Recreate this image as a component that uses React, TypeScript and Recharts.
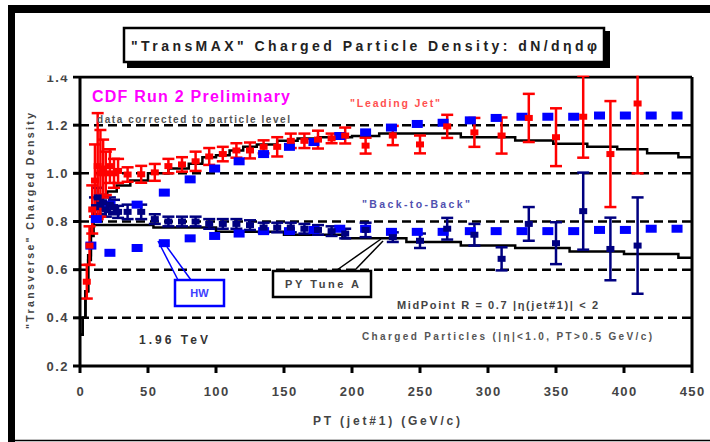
import React from 'react';
import { ComposedChart, XAxis, YAxis, Scatter, Line, ErrorBar, ReferenceLine } from 'recharts';

const W = 710;
const H = 442;
const MARGIN = { top: 77, right: 18, bottom: 26, left: 20 };
const Y_AXIS_W = 60;
const X_AXIS_H = 50;
const PLOT_LEFT = MARGIN.left + Y_AXIS_W;
const PLOT_TOP = MARGIN.top;
const PLOT_BOTTOM = H - MARGIN.bottom - X_AXIS_H;

const FONT = '"Liberation Sans", Arial, sans-serif';

// Axis ticks and dashed reference levels
const X_TICKS = [0, 50, 100, 150, 200, 250, 300, 350, 400, 450];
const Y_TICKS = [0.2, 0.4, 0.6, 0.8, 1.0, 1.2, 1.4];
const GRID_LEVELS = [0.4, 0.6, 0.8, 1.0, 1.2];
const X_DOMAIN: [number, number] = [0, 450];
const Y_DOMAIN: [number, number] = [0.2, 1.4];

// CDF data: "Leading Jet" region
const LEAD_PT = [5, 7, 9, 11, 13, 15, 17, 19, 22, 25, 28, 35, 45, 55, 65, 75, 85, 95, 105, 115, 125, 135, 145, 155, 165, 175, 185, 195, 210, 230, 250, 270, 290, 310, 330, 350, 370, 390, 410];
const LEAD_VAL = [0.55, 0.7, 0.85, 0.97, 1.03, 1.0, 1.02, 1.0, 1.03, 1.0, 1.01, 0.995, 0.996, 1.004, 1.03, 1.037, 1.05, 1.07, 1.08, 1.095, 1.095, 1.11, 1.11, 1.135, 1.135, 1.14, 1.145, 1.157, 1.115, 1.157, 1.12, 1.195, 1.17, 1.157, 1.23, 1.15, 1.235, 1.08, 1.29];
const LEAD_ERR = [0.07, 0.08, 0.1, 0.15, 0.22, 0.18, 0.12, 0.09, 0.07, 0.06, 0.05, 0.03, 0.035, 0.035, 0.03, 0.03, 0.04, 0.035, 0.03, 0.03, 0.033, 0.027, 0.04, 0.03, 0.03, 0.037, 0.02, 0.033, 0.033, 0.04, 0.037, 0.048, 0.06, 0.075, 0.1, 0.12, 0.17, 0.22, 0.29];

// CDF data: "Back-to-Back" region
const B2B_PT = [11, 13, 15, 17, 19, 22, 25, 28, 35, 45, 55, 65, 75, 85, 95, 105, 115, 125, 135, 145, 155, 165, 175, 185, 195, 210, 230, 250, 270, 290, 310, 330, 350, 370, 390, 410];
const B2B_VAL = [0.86, 0.9, 0.87, 0.88, 0.85, 0.87, 0.86, 0.84, 0.84, 0.84, 0.81, 0.8, 0.8, 0.8, 0.79, 0.79, 0.79, 0.785, 0.775, 0.775, 0.775, 0.77, 0.765, 0.76, 0.75, 0.765, 0.735, 0.72, 0.77, 0.745, 0.645, 0.79, 0.71, 0.843, 0.686, 0.7];
const B2B_ERR = [0.04, 0.04, 0.04, 0.03, 0.03, 0.03, 0.03, 0.025, 0.03, 0.03, 0.02, 0.02, 0.02, 0.02, 0.02, 0.02, 0.02, 0.02, 0.02, 0.02, 0.02, 0.02, 0.02, 0.02, 0.02, 0.03, 0.02, 0.03, 0.045, 0.045, 0.048, 0.07, 0.087, 0.16, 0.13, 0.2];

// HERWIG prediction
const HW_LEAD_PT = [12, 22, 42, 62, 81, 99, 117, 135, 154, 172, 191, 210, 229, 248, 267, 287, 306, 325, 344, 363, 382, 401, 420, 439];
const HW_LEAD_VAL = [0.81, 0.87, 0.87, 0.92, 0.975, 1.02, 1.05, 1.08, 1.11, 1.13, 1.155, 1.17, 1.19, 1.205, 1.21, 1.22, 1.23, 1.235, 1.235, 1.235, 1.24, 1.24, 1.24, 1.24];
const HW_B2B_PT = [8, 22, 42, 62, 81, 99, 117, 135, 154, 172, 191, 210, 229, 248, 267, 287, 306, 325, 344, 363, 382, 401, 420, 439];
const HW_B2B_VAL = [0.7, 0.67, 0.69, 0.71, 0.73, 0.74, 0.75, 0.76, 0.76, 0.765, 0.77, 0.77, 0.757, 0.757, 0.757, 0.76, 0.76, 0.76, 0.76, 0.76, 0.765, 0.765, 0.77, 0.77];

// PYTHIA Tune A prediction (histogram bins: lower edge, content)
const PY_LEAD_EDGE = [0, 2, 4, 6, 8, 10, 12, 15, 20, 27, 37, 50, 65, 80, 90, 100, 110, 120, 130, 145, 160, 175, 200, 220, 280, 320, 348, 373, 395, 417, 440, 450];
const PY_LEAD_VAL = [0.33, 0.4, 0.51, 0.66, 0.78, 0.85, 0.89, 0.91, 0.925, 0.95, 0.97, 1.0, 1.02, 1.04, 1.067, 1.075, 1.095, 1.11, 1.12, 1.135, 1.145, 1.15, 1.155, 1.165, 1.15, 1.136, 1.123, 1.11, 1.1, 1.083, 1.067, 1.067];
const PY_B2B_EDGE = [0, 2, 4, 6, 8, 10, 54, 100, 150, 193, 240, 280, 320, 360, 400, 440, 450];
const PY_B2B_VAL = [0.33, 0.4, 0.51, 0.64, 0.74, 0.785, 0.775, 0.757, 0.745, 0.73, 0.715, 0.7, 0.69, 0.675, 0.665, 0.65, 0.65];

const zip = (xs: number[], vs: number[], es?: number[]) =>
  xs.map((pt, i) => ({ pt, v: vs[i], err: es ? es[i] : 0 }));

const leadData = zip(LEAD_PT, LEAD_VAL, LEAD_ERR);
const b2bData = zip(B2B_PT, B2B_VAL, B2B_ERR);
const hwLeadData = zip(HW_LEAD_PT, HW_LEAD_VAL);
const hwB2bData = zip(HW_B2B_PT, HW_B2B_VAL);
const pyLeadData = zip(PY_LEAD_EDGE, PY_LEAD_VAL);
const pyB2bData = zip(PY_B2B_EDGE, PY_B2B_VAL);

const RED = '#ff0000';
const NAVY = '#000080';
const BLUE = '#0000ff';

const box = (w: number, h: number, fill: string) => (p: any) =>
  <rect x={p.cx - w / 2} y={p.cy - h / 2} width={w} height={h} fill={fill} />;

const YTickLabel = (p: any) => (
  <text x={PLOT_LEFT - 11} y={p.y + 4.5} textAnchor="end" fontFamily={FONT} fontSize={13} letterSpacing={1.5} fontWeight={700} fill="#444">
    {Number(p.payload.value).toFixed(1)}
  </text>
);

const XTickLabel = (p: any) => (
  <text x={p.x + 0.75} y={PLOT_BOTTOM + 30} textAnchor="middle" fontFamily={FONT} fontSize={13} letterSpacing={1.5} fontWeight={700} fill="#444">
    {p.payload.value}
  </text>
);

const tickStroke = { stroke: '#000', strokeWidth: 3 };
const txt = { fontFamily: FONT, fontWeight: 700 } as const;

export default function App() {
  return (
    <div style={{ position: 'absolute', left: 0, top: 0, width: W, height: H, background: '#fff' }}>
      <ComposedChart width={W} height={H} margin={MARGIN}>
        <XAxis
          dataKey="pt"
          type="number"
          domain={X_DOMAIN}
          ticks={X_TICKS}
          allowDataOverflow
          height={X_AXIS_H}
          tickSize={7}
          axisLine={tickStroke}
          tickLine={tickStroke}
          tick={<XTickLabel />}
          interval={0}
        />
        {/* inward half of the crossing tick marks */}
        <XAxis
          xAxisId="inner"
          dataKey="pt"
          type="number"
          domain={X_DOMAIN}
          ticks={X_TICKS}
          allowDataOverflow
          mirror
          tickSize={8}
          axisLine={false}
          tickLine={tickStroke}
          tick={false}
          interval={0}
        />
        <YAxis
          type="number"
          domain={Y_DOMAIN}
          ticks={Y_TICKS}
          allowDataOverflow
          width={Y_AXIS_W}
          tickSize={7}
          axisLine={tickStroke}
          tickLine={tickStroke}
          tick={<YTickLabel />}
          interval={0}
        />
        <YAxis
          yAxisId="inner"
          type="number"
          domain={Y_DOMAIN}
          ticks={Y_TICKS}
          allowDataOverflow
          mirror
          tickSize={7}
          axisLine={false}
          tickLine={tickStroke}
          tick={false}
          interval={0}
        />
        {GRID_LEVELS.map((g) => (
          <ReferenceLine key={g} y={g} stroke="#000" strokeWidth={2.5} strokeDasharray="9 5" />
        ))}
        <ReferenceLine y={1.4} stroke="#000" strokeWidth={3} />
        <ReferenceLine x={450} stroke="#000" strokeWidth={3} />

        <Line data={pyLeadData} dataKey="v" type="stepAfter" stroke="#000" strokeWidth={2.5} dot={false} isAnimationActive={false} />
        <Line data={pyB2bData} dataKey="v" type="stepAfter" stroke="#000" strokeWidth={2.5} dot={false} isAnimationActive={false} />

        <Scatter data={hwLeadData} dataKey="v" shape={box(11, 8, BLUE)} isAnimationActive={false} />
        <Scatter data={hwB2bData} dataKey="v" shape={box(11, 8, BLUE)} isAnimationActive={false} />

        <Scatter data={b2bData} dataKey="v" shape={box(8, 6, NAVY)} isAnimationActive={false}>
          <ErrorBar dataKey="err" direction="y" width={6} stroke={NAVY} strokeWidth={2.5} isAnimationActive={false} />
        </Scatter>
        <Scatter data={leadData} dataKey="v" shape={box(8, 6, RED)} isAnimationActive={false}>
          <ErrorBar dataKey="err" direction="y" width={6} stroke={RED} strokeWidth={2.5} isAnimationActive={false} />
        </Scatter>
      </ComposedChart>

      <svg width={W} height={H} style={{ position: 'absolute', left: 0, top: 0, pointerEvents: 'none' }}>
        {/* keep error bars inside the plot frame */}
        <rect x={15} y={13} width={W - 15} height={PLOT_TOP - 14.5} fill="#fff" />

        {/* outer frame */}
        <rect x={8} y={5} width={W - 8} height={8} fill="#000" />
        <rect x={8} y={5} width={7} height={H - 5} fill="#000" />
        <line x1={8} x2={W} y1={440.5} y2={440.5} stroke="#000" strokeWidth={1.5} />

        {/* title box with drop shadow */}
        <rect x={127} y={31} width={483} height={37} fill="#000" />
        <rect x={124} y={28} width={480} height={34} fill="#fff" stroke="#000" strokeWidth={2.5} />
        <text x={131} y={51} textLength={466} lengthAdjust="spacing" fontSize={14} fill="#222" {...txt}>
          "TransMAX" Charged Particle Density: dN/dηdφ
        </text>

        {/* axis titles */}
        <text transform="translate(34,221) rotate(-90)" textAnchor="middle" textLength={216} lengthAdjust="spacing" fontSize={10.5} fill="#444" {...txt}>
          "Transverse" Charged Density
        </text>
        <text x={313} y={425} textLength={147} lengthAdjust="spacing" fontSize={12} fill="#444" {...txt}>
          PT (jet#1)  (GeV/c)
        </text>

        {/* annotations */}
        <text x={92} y={102} textLength={198} lengthAdjust="spacing" fontSize={16} fill="#ff00ff" {...txt}>
          CDF Run 2 Preliminary
        </text>
        <text x={97} y={123} textLength={193} lengthAdjust="spacing" fontSize={10} fill="#555" {...txt}>
          data corrected to particle level
        </text>
        <text x={350} y={107} textLength={90} lengthAdjust="spacing" fontSize={10.5} fill="#ff5050" {...txt}>
          "Leading Jet"
        </text>
        <text x={362} y={208} textLength={108} lengthAdjust="spacing" fontSize={10.5} fill="#5050b0" {...txt}>
          "Back-to-Back"
        </text>
        <text x={139} y={344} textLength={69} lengthAdjust="spacing" fontSize={12} fill="#333" {...txt}>
          1.96 TeV
        </text>
        <text x={397} y={309} textLength={201} lengthAdjust="spacing" fontSize={11} fill="#444" {...txt}>
          MidPoint R = 0.7 |η(jet#1)| &lt; 2
        </text>
        <text x={362} y={340} textLength={290} lengthAdjust="spacing" fontSize={10} fill="#555" {...txt}>
          Charged Particles (|η|&lt;1.0, PT&gt;0.5 GeV/c)
        </text>

        {/* HW label and leader */}
        <line x1={158} y1={241} x2={178} y2={280} stroke={BLUE} strokeWidth={1.5} />
        <line x1={167} y1={247} x2={191} y2={280} stroke={BLUE} strokeWidth={1.5} />
        <rect x={175} y={280} width={49} height={26} fill="#fff" stroke={BLUE} strokeWidth={2.5} />
        <text x={199.5} y={297} textAnchor="middle" fontSize={11} fill="#4040ff" {...txt}>HW</text>

        {/* PY Tune A label and leader */}
        <line x1={337} y1={270} x2={381} y2={239} stroke="#000" strokeWidth={1.5} />
        <line x1={355} y1={270} x2={383} y2={241} stroke="#000" strokeWidth={1.5} />
        <rect x={273} y={271} width={98} height={26} fill="#fff" stroke="#000" strokeWidth={2.5} />
        <text x={322} y={288} textAnchor="middle" textLength={74} lengthAdjust="spacing" fontSize={11} fill="#444" {...txt}>
          PY Tune A
        </text>
      </svg>
    </div>
  );
}
